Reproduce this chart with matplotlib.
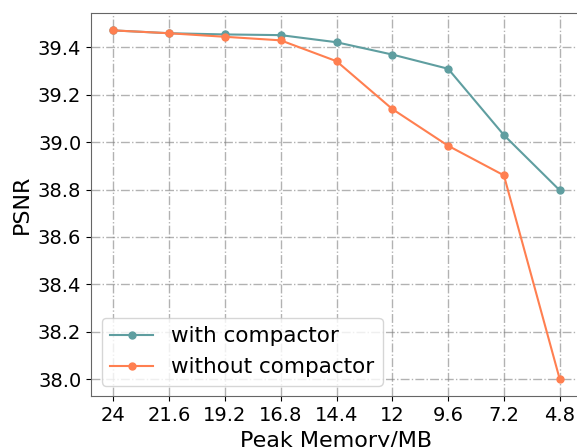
import matplotlib
matplotlib.use('Agg')
import matplotlib.pyplot as plt

# ------ DATA -------------------------
memory_labels = ['24', '21.6', '19.2', '16.8', '14.4', '12', '9.6', '7.2', '4.8']
psnr_with = [39.472, 39.460, 39.455, 39.452, 39.422, 39.370, 39.310, 39.030, 38.797]
psnr_without = [39.472, 39.460, 39.445, 39.430, 39.342, 39.140, 38.985, 38.860, 38.000]

# ------ DRAW -------------------------
fig = plt.figure(figsize=(5.77, 4.47), dpi=100)
ax = fig.add_axes([0.1577, 0.113, 0.851, 0.858])

x = range(len(memory_labels))
ax.plot(x, psnr_with, '-o', color='#5F9EA0', linewidth=1.5, markersize=5, label='with compactor')
ax.plot(x, psnr_without, '-o', color='#FF7F50', linewidth=1.5, markersize=5, label='without compactor')

ax.set_xticks(list(x))
ax.set_xticklabels(memory_labels)
ax.tick_params(labelsize=14)
ax.set_xlabel('Peak Memory/MB', fontsize=16)
ax.set_ylabel('PSNR', fontsize=16)

ax.grid(True, linestyle='-.', color='gray', alpha=0.6, linewidth=1)
for s in ax.spines.values():
	s.set_color('0.4')

ax.legend(loc='lower left', fontsize=15.5)

fig.savefig('out.png', dpi=100)
